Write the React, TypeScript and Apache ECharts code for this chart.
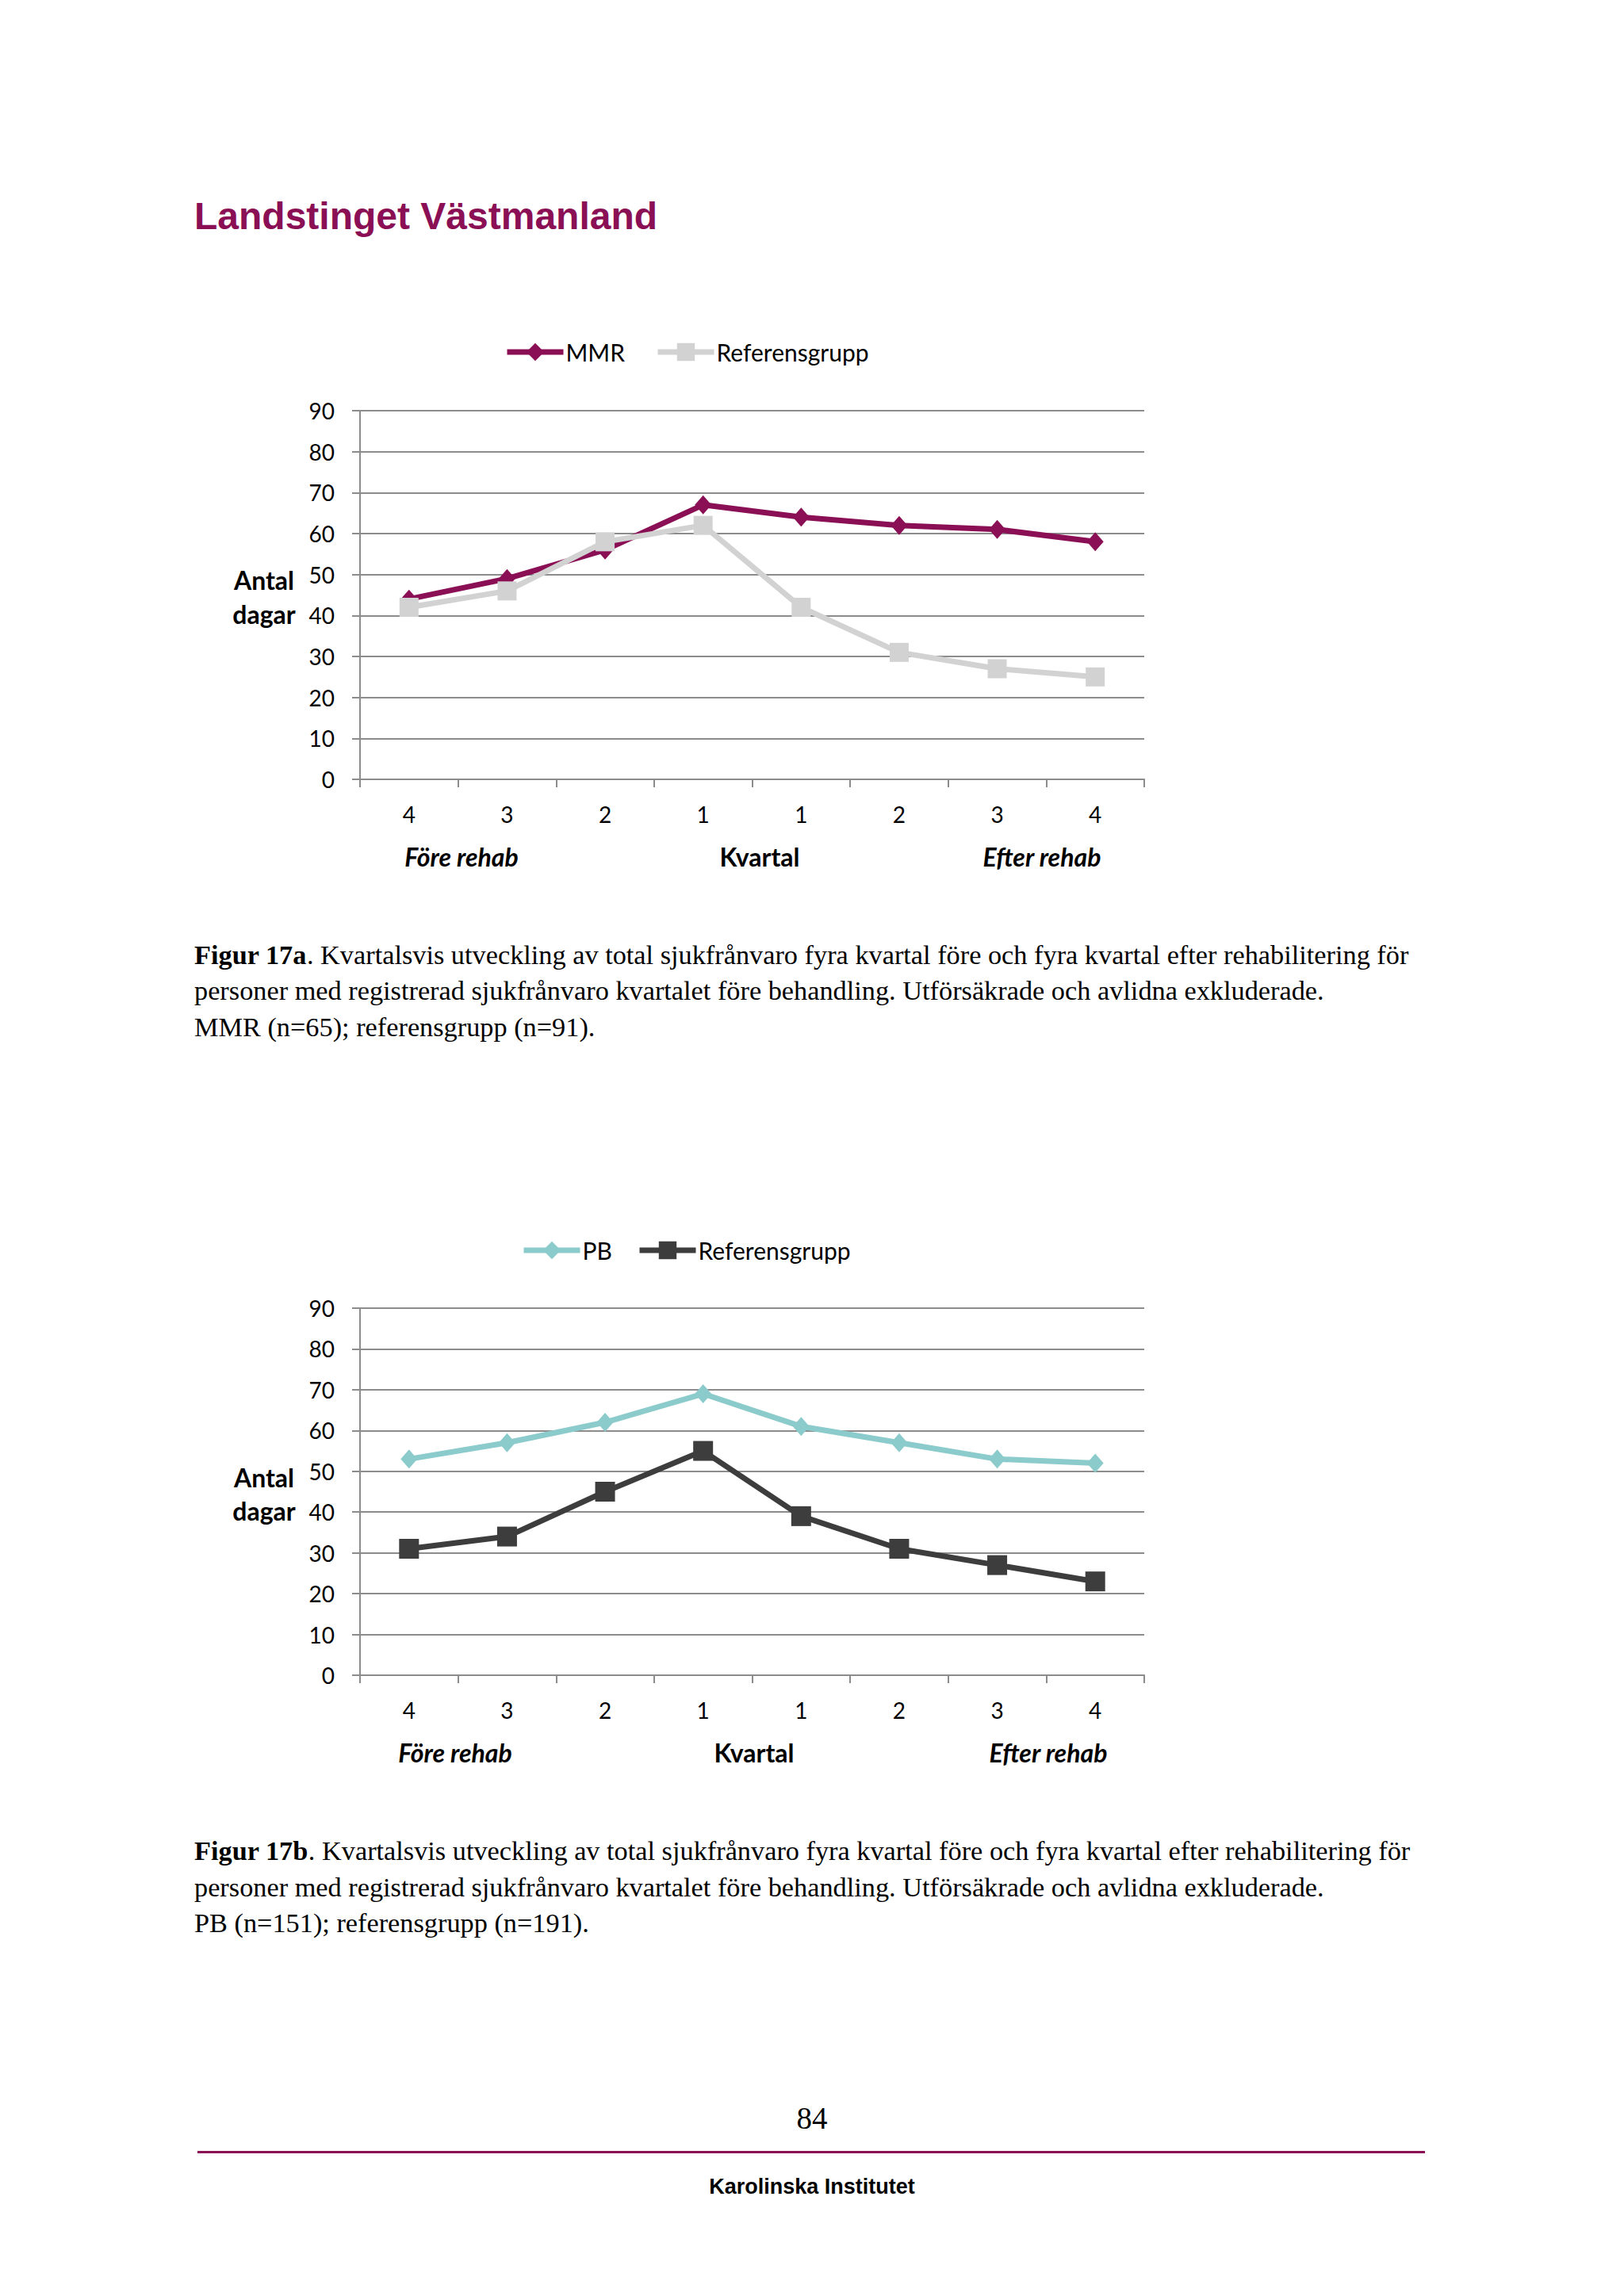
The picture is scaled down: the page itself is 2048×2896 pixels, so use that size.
import React, { useEffect, useRef } from 'react';
import * as echarts from 'echarts';

const categories = ['F4', 'F3', 'F2', 'F1', 'E1', 'E2', 'E3', 'E4'];
const tickLabels = ['4', '3', '2', '1', '1', '2', '3', '4'];
const mmrValues = [44, 49, 56, 67, 64, 62, 61, 58];
const refAValues = [42, 46, 58, 62, 42, 31, 27, 25];
const pbValues = [53, 57, 62, 69, 61, 57, 53, 52];
const refBValues = [31, 34, 45, 55, 39, 31, 27, 23];

const PURPLE = '#8a0f55';
const LIGHT = '#d2d2d2';
const TEAL = '#8ccbcc';
const DARK = '#3d3d3d';
const GRIDC = '#8c8c8c';
const CHART_FONT = 'Lato, "Open Sans", sans-serif';
const SERIF = '"Liberation Serif", "Times New Roman", serif';
const SANS = '"Liberation Sans", Arial, sans-serif';
const CAP = 34.3;

function axisPair(gi: number) {
  return {
    x: {
      type: 'category',
      gridIndex: gi,
      data: categories,
      boundaryGap: true,
      axisLine: { show: true, lineStyle: { color: GRIDC, width: 2 } },
      axisTick: { show: true, interval: 0, alignWithLabel: false, length: 10, lineStyle: { color: GRIDC, width: 2 } },
      axisLabel: {
        interval: 0,
        margin: 30,
        fontSize: 28,
        fontFamily: CHART_FONT,
        color: '#000',
        formatter: (_v: string, i: number) => tickLabels[i],
      },
      splitLine: { show: false },
    },
    y: {
      type: 'value',
      gridIndex: gi,
      min: 0,
      max: 90,
      interval: 10,
      axisLine: { show: true, lineStyle: { color: GRIDC, width: 2 } },
      axisTick: { show: true, length: 10, lineStyle: { color: GRIDC, width: 2 } },
      axisLabel: { margin: 32, fontSize: 28, fontFamily: CHART_FONT, color: '#000' },
      splitLine: { show: true, lineStyle: { color: GRIDC, width: 2 } },
    },
  };
}

function textEl(text: string, x: number, y: number, opts: any = {}) {
  return {
    type: 'text',
    x,
    y,
    style: {
      text,
      fill: opts.fill || '#000',
      align: opts.align || 'left',
      verticalAlign: 'middle',
      fontSize: opts.fontSize || 28,
      fontFamily: opts.fontFamily || CHART_FONT,
      fontWeight: opts.fontWeight || 'normal',
      fontStyle: opts.fontStyle || 'normal',
    },
  };
}

function captionLine(bold: string, rest: string, x: number, y: number) {
  return {
    type: 'text',
    x,
    y,
    style: {
      text: (bold ? '{b|' + bold + '}' : '') + '{n|' + rest + '}',
      verticalAlign: 'middle',
      align: 'left',
      fontSize: CAP,
      fontFamily: SERIF,
      fill: '#000',
      rich: {
        b: { fontSize: CAP, fontFamily: SERIF, fontWeight: 'bold', fill: '#000' },
        n: { fontSize: CAP, fontFamily: SERIF, fontWeight: 'normal', fill: '#000' },
      },
    },
  };
}

export default function App() {
  const ref = useRef<HTMLDivElement>(null);
  useEffect(() => {
    if (!ref.current) return;
    const chart = echarts.init(ref.current, undefined, { renderer: 'svg' });
    const a1 = axisPair(0);
    const a2 = axisPair(1);
    const legendBase = {
      orient: 'horizontal',
      itemWidth: 71,
      itemHeight: 28,
      itemGap: 36,
      lineStyle: { width: 7 },
      textStyle: { fontSize: 30, fontFamily: CHART_FONT, color: '#000', padding: [0, 0, 0, -2] },
      selectedMode: false,
    };
    const lineSeries = (name: string, data: number[], color: string, symbol: string, size: any, gi: number) => ({
      type: 'line',
      name,
      xAxisIndex: gi,
      yAxisIndex: gi,
      data,
      symbol,
      symbolSize: size,
      showSymbol: true,
      lineStyle: { color, width: 7 },
      itemStyle: { color, borderWidth: 0 },
      z: 3,
    });
    const option: any = {
      animation: false,
      backgroundColor: '#ffffff',
      grid: [
        { left: 454, top: 518, width: 989, height: 465, containLabel: false },
        { left: 454, top: 1650, width: 989, height: 463, containLabel: false },
      ],
      xAxis: [a1.x, a2.x],
      yAxis: [a1.y, a2.y],
      legend: [
        { ...legendBase, left: 631, top: 424, data: ['MMR'] },
        { ...legendBase, left: 821, top: 424, data: ['Referensgrupp'] },
        { ...legendBase, left: 652, top: 1557, data: ['PB'] },
        {
          ...legendBase,
          left: 798,
          top: 1557,
          data: ['Referensgrupp B'],
          formatter: () => 'Referensgrupp',
        },
      ],
      series: [
        lineSeries('MMR', mmrValues, PURPLE, 'diamond', [21, 24], 0),
        lineSeries('Referensgrupp', refAValues, LIGHT, 'rect', [24, 24], 0),
        lineSeries('PB', pbValues, TEAL, 'diamond', [21, 24], 1),
        lineSeries('Referensgrupp B', refBValues, DARK, 'rect', [25, 25], 1),
      ],
      graphic: [
        textEl('Landstinget Västmanland', 245, 272, { fontSize: 48, fontFamily: SANS, fontWeight: 'bold', fill: PURPLE }),
        // chart 1 axis titles
        textEl('Antal', 333, 731, { fontWeight: 'bold', align: 'center', fontSize: 32 }),
        textEl('dagar', 333, 774, { fontWeight: 'bold', align: 'center', fontSize: 32 }),
        textEl('Före rehab', 582, 1080, { fontWeight: 'bold', fontStyle: 'italic', align: 'center', fontSize: 32 }),
        textEl('Kvartal', 958, 1080, { fontWeight: 'bold', align: 'center', fontSize: 32 }),
        textEl('Efter rehab', 1314, 1080, { fontWeight: 'bold', fontStyle: 'italic', align: 'center', fontSize: 32 }),
        // chart 2 axis titles
        textEl('Antal', 333, 1863, { fontWeight: 'bold', align: 'center', fontSize: 32 }),
        textEl('dagar', 333, 1905, { fontWeight: 'bold', align: 'center', fontSize: 32 }),
        textEl('Före rehab', 574, 2210, { fontWeight: 'bold', fontStyle: 'italic', align: 'center', fontSize: 32 }),
        textEl('Kvartal', 951, 2210, { fontWeight: 'bold', align: 'center', fontSize: 32 }),
        textEl('Efter rehab', 1322, 2210, { fontWeight: 'bold', fontStyle: 'italic', align: 'center', fontSize: 32 }),
        // captions
        captionLine('Figur 17a', '. Kvartalsvis utveckling av total sjukfrånvaro fyra kvartal före och fyra kvartal efter rehabilitering för', 245, 1204),
        captionLine('', 'personer med registrerad sjukfrånvaro kvartalet före behandling. Utförsäkrade och avlidna exkluderade.', 245, 1249),
        captionLine('', 'MMR (n=65); referensgrupp (n=91).', 245, 1295),
        captionLine('Figur 17b', '. Kvartalsvis utveckling av total sjukfrånvaro fyra kvartal före och fyra kvartal efter rehabilitering för', 245, 2334),
        captionLine('', 'personer med registrerad sjukfrånvaro kvartalet före behandling. Utförsäkrade och avlidna exkluderade.', 245, 2380),
        captionLine('', 'PB (n=151); referensgrupp (n=191).', 245, 2425),
        // footer
        textEl('84', 1024, 2671, { fontSize: 39, fontFamily: SERIF, align: 'center' }),
        { type: 'rect', shape: { x: 249, y: 2713, width: 1548, height: 3 }, style: { fill: PURPLE } },
        textEl('Karolinska Institutet', 1024, 2758, { fontSize: 27, fontFamily: SANS, fontWeight: 'bold', align: 'center' }),
      ],
    };
    chart.setOption(option);
    return () => chart.dispose();
  }, []);
  return (
    <div
      ref={ref}
      style={{ position: 'absolute', left: 0, top: 0, width: 2048, height: 2896, background: '#fff' }}
    />
  );
}
